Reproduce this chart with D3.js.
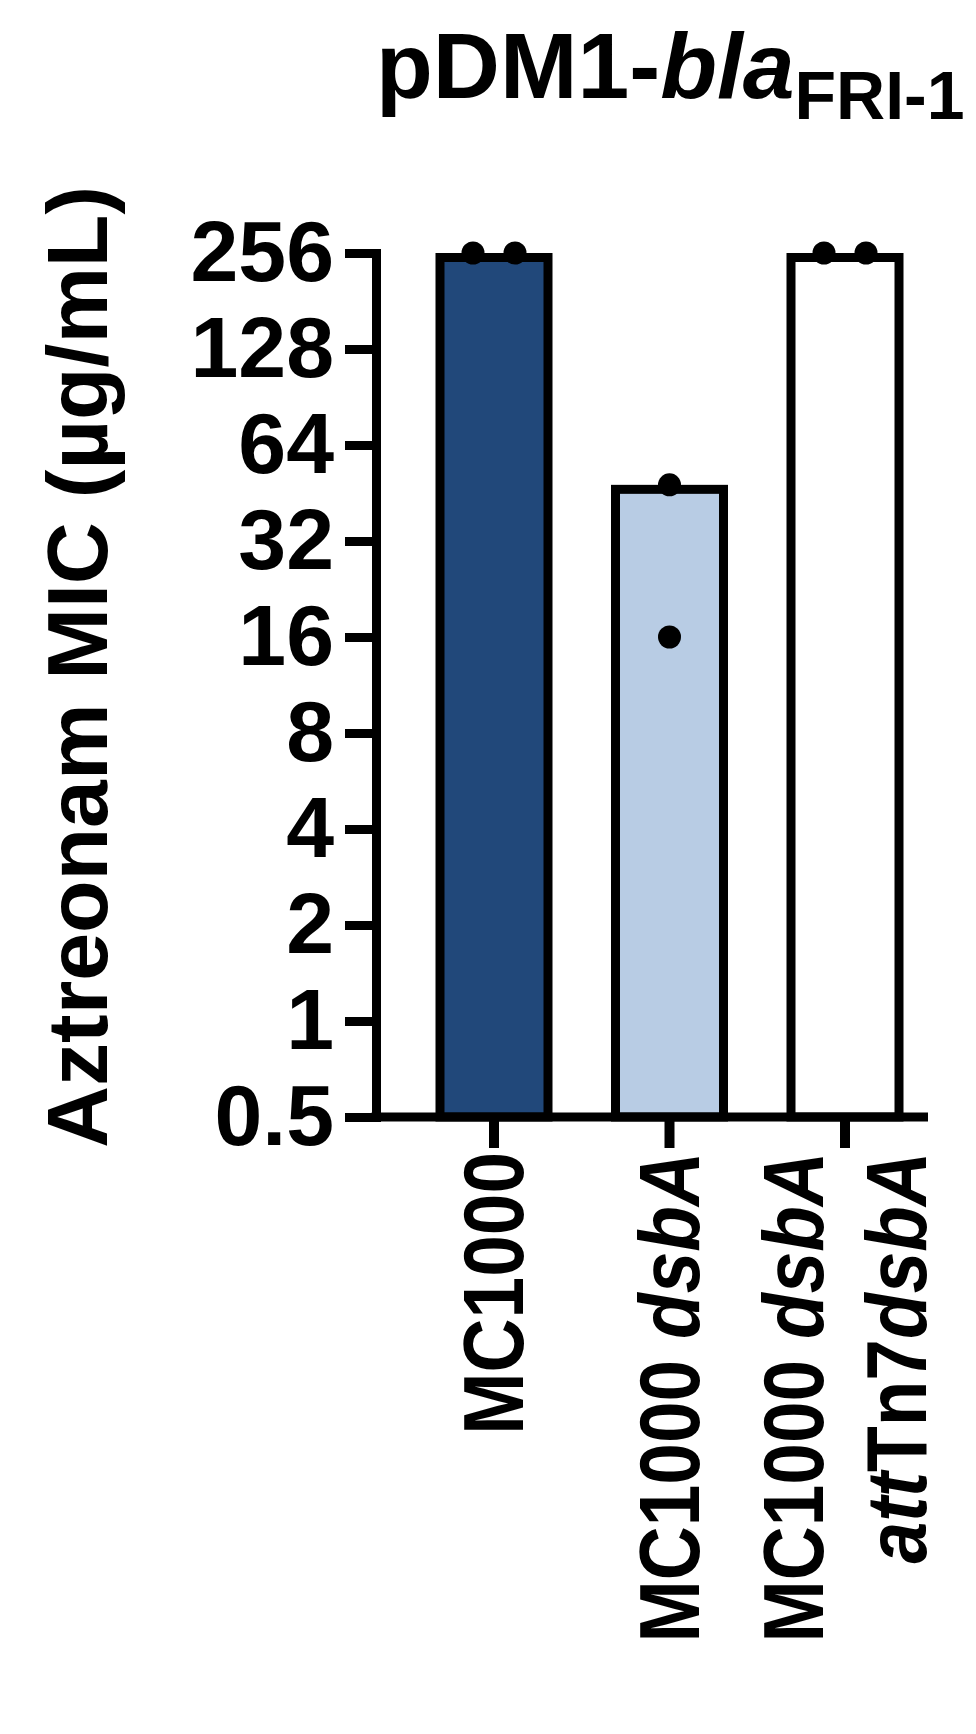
<!DOCTYPE html>
<html>
<head>
<meta charset="utf-8">
<script src="https://cdn.jsdelivr.net/npm/d3@7"></script>
<style>
    body { margin: 0; background: #fff; }
    svg text { font-family: "Liberation Sans", Arial, sans-serif; font-weight: bold; fill: #000; }
</style>
</head>
<body>
<svg id="chart" width="976" height="1734"></svg>
<script>
// data
const groups = ["MC1000", "MC1000 dsbA", "MC1000 dsbA attTn7dsbA"];
const barValues = [256, 48, 256];
const replicateValues = [[256, 256], [48, 16], [256, 256]];
const barColors = ["#21487a", "#b8cce4", "#ffffff"];
const yTicks = [0.5, 1, 2, 4, 8, 16, 32, 64, 128, 256];

// label lines, each line a list of [text, italic]
const groupLabels = [
    [[["MC1000", false]]],
    [[["MC1000 ", false], ["dsbA", true]]],
    [[["MC1000 ", false], ["dsbA", true]], [["att", true], ["Tn7", false], ["dsbA", true]]]
];

const svg = d3.select("#chart");

const axisX = 376;
const baseY = 1117;
const topY = 253;
const axisRight = 928;
const lineW = 9;
const barW = 117;

const y = d3.scaleLog().base(2).domain([0.5, 256]).range([baseY, topY]);
const x = d3.scalePoint().domain(groups).range([494, 845]);

// title
const title = svg.append("text")
    .attr("x", axisX)
    .attr("y", 98)
    .style("font-size", "93px");
title.append("tspan").text("pDM1-");
title.append("tspan").style("font-style", "italic").text("bla");
title.append("tspan")
    .attr("dy", 21)
    .style("font-size", "68px")
    .text("FRI-1");

// y axis title
svg.append("text")
    .attr("transform", "translate(107,667) rotate(-90)")
    .attr("text-anchor", "middle")
    .style("font-size", "86px")
    .text("Aztreonam MIC (\u00b5g/mL)");

// bars
svg.selectAll("rect.bar")
    .data(groups)
    .enter()
    .append("rect")
    .attr("class", "bar")
    .attr("x", function(d) { return x(d) - barW / 2 + lineW / 2; })
    .attr("width", barW - lineW)
    .attr("y", function(d, i) { return y(barValues[i]) + lineW / 2; })
    .attr("height", function(d, i) { return baseY - y(barValues[i]) - lineW / 2; })
    .attr("fill", function(d, i) { return barColors[i]; })
    .attr("stroke", "#000")
    .attr("stroke-width", lineW);

// replicate dots, identical values spread sideways
const dots = [];
replicateValues.forEach(function(values, i) {
    values.forEach(function(v, j) {
        const same = values.filter(function(w) { return w === v; }).length;
        const rank = values.slice(0, j).filter(function(w) { return w === v; }).length;
        dots.push({ group: groups[i], value: v, offset: (rank - (same - 1) / 2) * 42 });
    });
});

svg.selectAll("circle.dot")
    .data(dots)
    .enter()
    .append("circle")
    .attr("class", "dot")
    .attr("cx", function(d) { return x(d.group) + d.offset; })
    .attr("cy", function(d) { return y(d.value); })
    .attr("r", 11.5)
    .attr("fill", "#000");

// y axis
const yAxis = svg.append("g")
    .attr("transform", "translate(" + axisX + ",0)")
    .call(
        d3.axisLeft(y)
            .tickValues(yTicks)
            .tickFormat(d3.format("~g"))
            .tickSize(31)
            .tickSizeOuter(0)
            .tickPadding(11)
    );
yAxis.select(".domain").attr("stroke-width", lineW).attr("stroke-linecap", "square");
yAxis.selectAll(".tick line").attr("stroke-width", lineW);
yAxis.selectAll(".tick text")
    .attr("font-family", null)
    .attr("font-size", null)
    .style("font-size", "86px");

// x axis baseline and ticks
svg.append("line")
    .attr("x1", axisX - lineW / 2)
    .attr("x2", axisRight)
    .attr("y1", baseY)
    .attr("y2", baseY)
    .attr("stroke", "#000")
    .attr("stroke-width", lineW);

svg.selectAll("line.xtick")
    .data(groups)
    .enter()
    .append("line")
    .attr("class", "xtick")
    .attr("x1", function(d) { return x(d); })
    .attr("x2", function(d) { return x(d); })
    .attr("y1", baseY)
    .attr("y2", 1148)
    .attr("stroke", "#000")
    .attr("stroke-width", 10);

// x labels, rotated
groupLabels.forEach(function(lines, i) {
    const n = lines.length;
    lines.forEach(function(parts, k) {
        const bx = x(groups[i]) + 29 + (k - (n - 1) / 2) * 103;
        const t = svg.append("text")
            .attr("transform", "translate(" + bx + ",1152) rotate(-90) scale(0.87,1)")
            .attr("text-anchor", "end")
            .style("font-size", "86px");
        parts.forEach(function(p) {
            t.append("tspan")
                .style("font-style", p[1] ? "italic" : "normal")
                .text(p[0]);
        });
    });
});
</script>
</body>
</html>
